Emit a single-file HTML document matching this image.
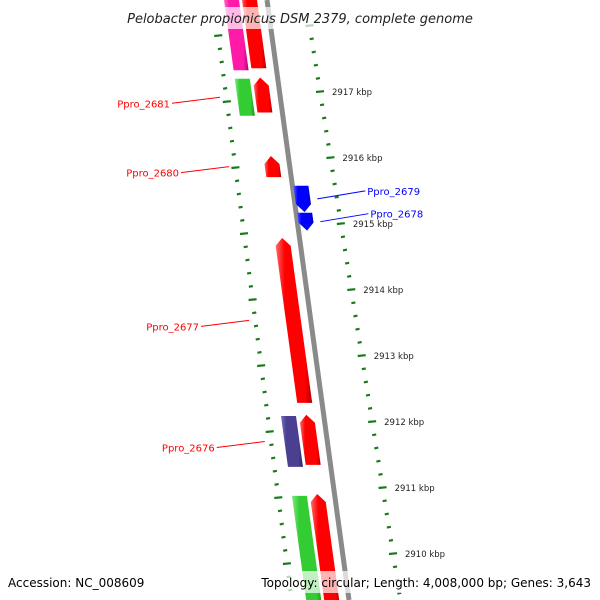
<!DOCTYPE html>
<html><head><meta charset="utf-8"><style>
body{margin:0;background:#fff}
svg{display:block;font-family:"DejaVu Sans","Liberation Sans",sans-serif}
</style></head><body>
<svg id="map" width="600" height="600" viewBox="0 0 600 600" xmlns="http://www.w3.org/2000/svg">
<defs>
<linearGradient id="gr" x1="0" x2="1"><stop offset="0" stop-color="#ff6a6a"/><stop offset="0.25" stop-color="#ff0000"/><stop offset="0.8" stop-color="#ff0000"/><stop offset="1" stop-color="#b00000"/></linearGradient>
<linearGradient id="gp" x1="0" x2="1"><stop offset="0" stop-color="#ff7ad0"/><stop offset="0.25" stop-color="#ff1aa8"/><stop offset="0.8" stop-color="#ff1aa8"/><stop offset="1" stop-color="#b00070"/></linearGradient>
<linearGradient id="gg" x1="0" x2="1"><stop offset="0" stop-color="#80e880"/><stop offset="0.25" stop-color="#33cc33"/><stop offset="0.8" stop-color="#33cc33"/><stop offset="1" stop-color="#1a8a1a"/></linearGradient>
<linearGradient id="gb" x1="0" x2="1"><stop offset="0" stop-color="#5a5aff"/><stop offset="0.25" stop-color="#0000ff"/><stop offset="0.8" stop-color="#0000ff"/><stop offset="1" stop-color="#0000a0"/></linearGradient>
<linearGradient id="gv" x1="0" x2="1"><stop offset="0" stop-color="#7a70b8"/><stop offset="0.25" stop-color="#4a3f90"/><stop offset="0.8" stop-color="#4a3f90"/><stop offset="1" stop-color="#2c2460"/></linearGradient>
</defs>
<g id="ticks"></g>
<line x1="267" y1="0" x2="349" y2="600" stroke="#8a8a8a" stroke-width="5"/>
<g id="genes"></g>
<g id="labels"></g>
<rect x="115" y="7" width="370" height="22" fill="#fff" opacity="0.7"/>
<text x="300" y="23" text-anchor="middle" font-size="13" font-style="italic" fill="#222">Pelobacter propionicus DSM 2379, complete genome</text>
<rect x="5" y="571" width="140" height="22" fill="#fff" opacity="0.7"/>
<rect x="258" y="571" width="336" height="22" fill="#fff" opacity="0.7"/>
<text x="8" y="587" font-size="12" fill="#000">Accession: NC_008609</text>
<text x="591" y="587" text-anchor="end" font-size="12" fill="#000">Topology: circular; Length: 4,008,000 bp; Genes: 3,643</text>
</svg>
<script>
const tickLabels=[2918,2917,2916,2915,2914,2913,2912,2911,2910,2909];
const geneNames=["g1","g2","Ppro_2681","g4","Ppro_2680","Ppro_2679","Ppro_2678","Ppro_2677","Ppro_2676","g10","g11","g12"];
const geneStart=[2918.5,2918.5,2917.2,2917.22,2916.03,2915.58,2915.17,2914.79,2912.09,2912.11,2910.88,2910.91];
const geneEnd=[2917.33,2917.36,2916.64,2916.69,2915.71,2915.18,2914.9,2912.29,2911.32,2911.35,2909.1,2909.1];
const geneLane=[-2,-1,-2,-1,-1,1,1,-1,-2,-1,-2,-1];
const geneStrand=[0,0,0,-1,-1,1,1,-1,0,-1,0,-1];
const geneFill=["gp","gr","gg","gr","gr","gb","gb","gr","gv","gr","gg","gr"];
const labelIdx=[2,4,5,6,7,8];
const NS="http://www.w3.org/2000/svg";
function Y(k){return 92+(2917-k)*66;}
function bbX(y){return 267+y*0.137;}
const tg=document.getElementById('ticks');
function mk(tag,attrs,parent){const e=document.createElementNS(NS,tag);for(const a in attrs)e.setAttribute(a,attrs[a]);parent.appendChild(e);return e;}
for(let i=0;i<tickLabels.length;i++){
  const k=tickLabels[i];
  for(let j=0;j<5;j++){
    const y=Y(k)-j*13.2; if(y<20||y>605) continue;
    const xr=320+(y-92)*0.158, xl=228+(y-101)*0.13;
    const len=j===0?8:4;
    let t=mk('line',{x1:xr-len/2,y1:y,x2:xr+len/2,y2:y-0.8,stroke:'#1a7a1a','stroke-width':2.2},tg);
    
    
    const yl=y+10;
    let t2=mk('line',{x1:xl-len/2,y1:yl,x2:xl+len/2,y2:yl-0.8,stroke:'#1a7a1a','stroke-width':2.2},tg);
    
    
    if(j===0&&y>40&&y<570){
      let tx=mk('text',{x:xr+12,y:y+3,'font-size':8.5,fill:'#222'},tg);
      tx.textContent=k+' kbp';
      
      
    }
  }
}
const gg=document.getElementById('genes');
const laneOff={'-2':-43,'-1':-25,'1':1};
for(let i=0;i<geneNames.length;i++){
  const y1=Y(geneStart[i]),y2=Y(geneEnd[i]);
  const off=laneOff[geneLane[i]],w=15,a=8,s=0.137;
  const xa=bbX(y1)+off,xb=bbX(y2)+off;
  let pts;
  if(geneStrand[i]===-1){
    pts=[[xa+s*a,y1+a],[xa+w/2,y1],[xa+w+s*a,y1+a],[xb+w,y2],[xb,y2]];
  }else if(geneStrand[i]===1){
    pts=[[xa,y1],[xa+w,y1],[xb+w-s*a,y2-a],[xb+w/2,y2],[xb-s*a,y2-a]];
  }else pts=[[xa,y1],[xa+w,y1],[xb+w,y2],[xb,y2]];
  let p=mk('polygon',{points:pts.map(q=>q.join(',')).join(' '),fill:'url(#'+geneFill[i]+')'},gg);
  
  
}
const lg=document.getElementById('labels');
for(const i of labelIdx){
  const y1=Y(geneStart[i]),y2=Y(geneEnd[i]),ym=(y1+y2)/2;
  const blue=geneLane[i]>0, col=blue?'#0000ff':'#ff0000';
  const xm=bbX(ym)+laneOff[geneLane[i]];
  let l,t;
  if(blue){
    const sx=xm+22;
    l=mk('line',{x1:sx,y1:ym,x2:sx+48,y2:ym-8,stroke:col,'stroke-width':1},lg);
    t=mk('text',{x:sx+50,y:ym-4,'font-size':10,fill:col},lg);
  }else{
    const ex=228+(ym+4-101)*0.13-8;
    l=mk('line',{x1:ex,y1:ym,x2:ex-48,y2:ym+6,stroke:col,'stroke-width':1},lg);
    t=mk('text',{x:ex-50,y:ym+10,'font-size':10,fill:col,'text-anchor':'end'},lg);
  }
  
  
  t.textContent=geneNames[i];
  
  
}
</script>
</body></html>
